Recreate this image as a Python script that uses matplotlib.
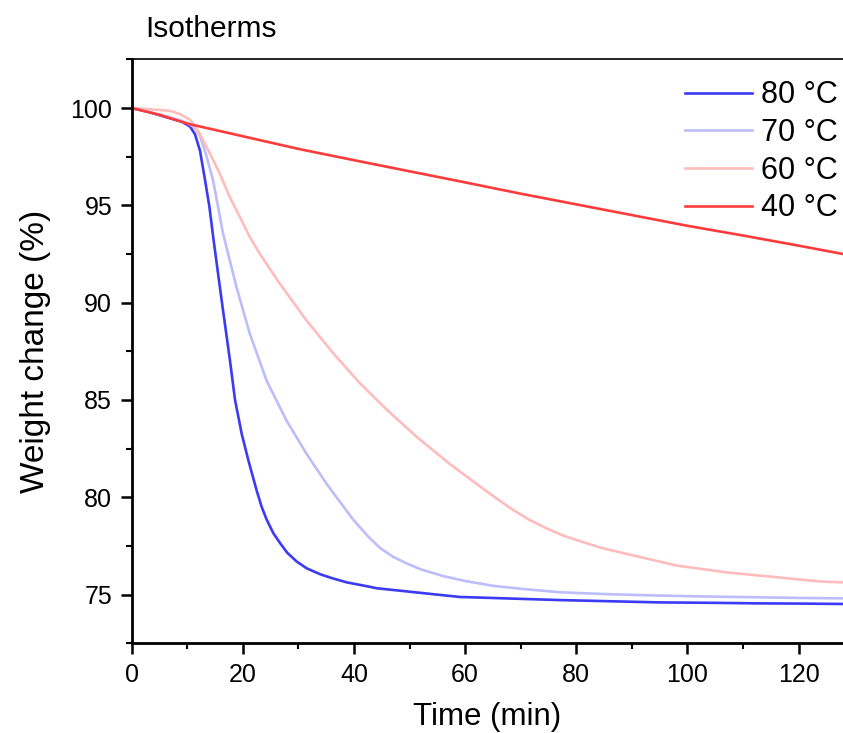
import numpy as np
import matplotlib
matplotlib.use("Agg")
import matplotlib.pyplot as plt
from matplotlib.ticker import MultipleLocator

plt.rcParams['font.family'] = ['Liberation Sans', 'DejaVu Sans']

# 80 C isotherm
t80 = [0, 3, 6, 9, 10.5, 11.4, 12.3, 13.2, 14.0, 14.7, 16.2, 17.7, 18.6, 19.8,
       21.0, 22.5, 23.4, 24.3, 25.5, 26.7, 28.0, 29.7, 31.5, 33.9, 36.0, 38.7,
       42.9, 44, 50, 59, 68, 77, 86, 95, 104, 113, 120, 128]
w80 = [100, 99.8, 99.55, 99.3, 99.05, 98.65, 97.8, 96.3, 94.9, 93.3, 90.1,
       87.0, 85.0, 83.26, 81.9, 80.34, 79.5, 78.85, 78.15, 77.65, 77.15, 76.7,
       76.35, 76.05, 75.85, 75.63, 75.4, 75.33, 75.15, 74.88, 74.8, 74.72,
       74.66, 74.6, 74.58, 74.55, 74.54, 74.52]

# 70 C isotherm
t70 = [0, 3, 6, 9, 10.5, 11.5, 12.25, 13.4, 14.65, 16.45, 18.86, 21.26, 24.27,
       27.87, 31.47, 35.08, 39.87, 42.5, 44.68, 47, 49.5, 52, 56.1, 60, 65.1,
       70, 77.1, 86, 95.1, 104, 113.2, 120, 128]
w70 = [100, 99.8, 99.6, 99.35, 99.15, 98.95, 98.6, 97.6, 96.28, 93.54, 90.8,
       88.4, 86.0, 83.94, 82.23, 80.69, 78.85, 78.0, 77.4, 76.95, 76.6, 76.3,
       75.95, 75.7, 75.45, 75.3, 75.12, 75.02, 74.95, 74.9, 74.86, 74.83, 74.81]

# 60 C isotherm
t60 = [0, 2.5, 5, 7, 8.6, 10.5, 12.25, 14, 15.86, 17.6, 19.46, 21.2, 23.06,
       26.67, 31.47, 36.27, 41.1, 45.9, 51.3, 57.3, 63.9, 68.1, 71.5, 74.7,
       77.5, 80.1, 84.5, 89.1, 98.1, 107.1, 116.2, 124, 128]
w60 = [100, 99.95, 99.9, 99.85, 99.7, 99.4, 98.68, 97.7, 96.63, 95.45, 94.4,
       93.4, 92.51, 90.97, 89.08, 87.4, 85.85, 84.5, 83.1, 81.7, 80.3, 79.45,
       78.85, 78.4, 78.05, 77.8, 77.4, 77.09, 76.49, 76.14, 75.89, 75.67, 75.63]

# 40 C isotherm
t40 = [0, 5, 10, 20, 30, 40, 50, 60, 70, 80, 90, 100, 110, 120, 128]
w40 = [100, 99.65, 99.2, 98.55, 97.9, 97.32, 96.75, 96.18, 95.6, 95.05, 94.5,
       93.95, 93.45, 92.93, 92.5]

labels = ['80 °C', '70 °C', '60 °C', '40 °C']
colors = ['#3b3bf5', '#bdbdfb', '#ffbcbc', '#ff3b3b']

fig = plt.figure(figsize=(8.43, 7.33), dpi=100)
ax = fig.add_axes([0.1562, 0.1224, 1 - 0.1562, 0.919 - 0.1224])

for t, w, lab, c in zip([t80, t70, t60, t40], [w80, w70, w60, w40], labels, colors):
    ax.plot(t, w, color=c, lw=1.9, label=lab)

ax.set_xlim(0, 128)
ax.set_ylim(72.5, 102.5)
ax.xaxis.set_major_locator(MultipleLocator(20))
ax.xaxis.set_minor_locator(MultipleLocator(10))
ax.yaxis.set_major_locator(MultipleLocator(5))
ax.yaxis.set_minor_locator(MultipleLocator(2.5))

ax.spines['right'].set_visible(False)
ax.spines['left'].set_linewidth(2)
ax.spines['bottom'].set_linewidth(2)
ax.spines['top'].set_linewidth(1.2)
ax.tick_params(which='major', direction='out', length=8, width=1.8, labelsize=18, pad=6)
ax.tick_params(which='minor', direction='out', length=4.5, width=1.5)

ax.set_xlabel('Time (min)', fontsize=22.5, labelpad=11)
ax.set_ylabel('Weight change (%)', fontsize=24, labelpad=14)
ax.text(0.019, 1.0377, 'Isotherms', transform=ax.transAxes, fontsize=21.5,
        ha='left', va='baseline')

ax.legend(loc='upper right', bbox_to_anchor=(1.01, 0.985), frameon=False,
          fontsize=22, handlelength=2.2, handletextpad=0.3, labelspacing=0.25,
          borderaxespad=0.0)

fig.savefig('out.png', dpi=100)
